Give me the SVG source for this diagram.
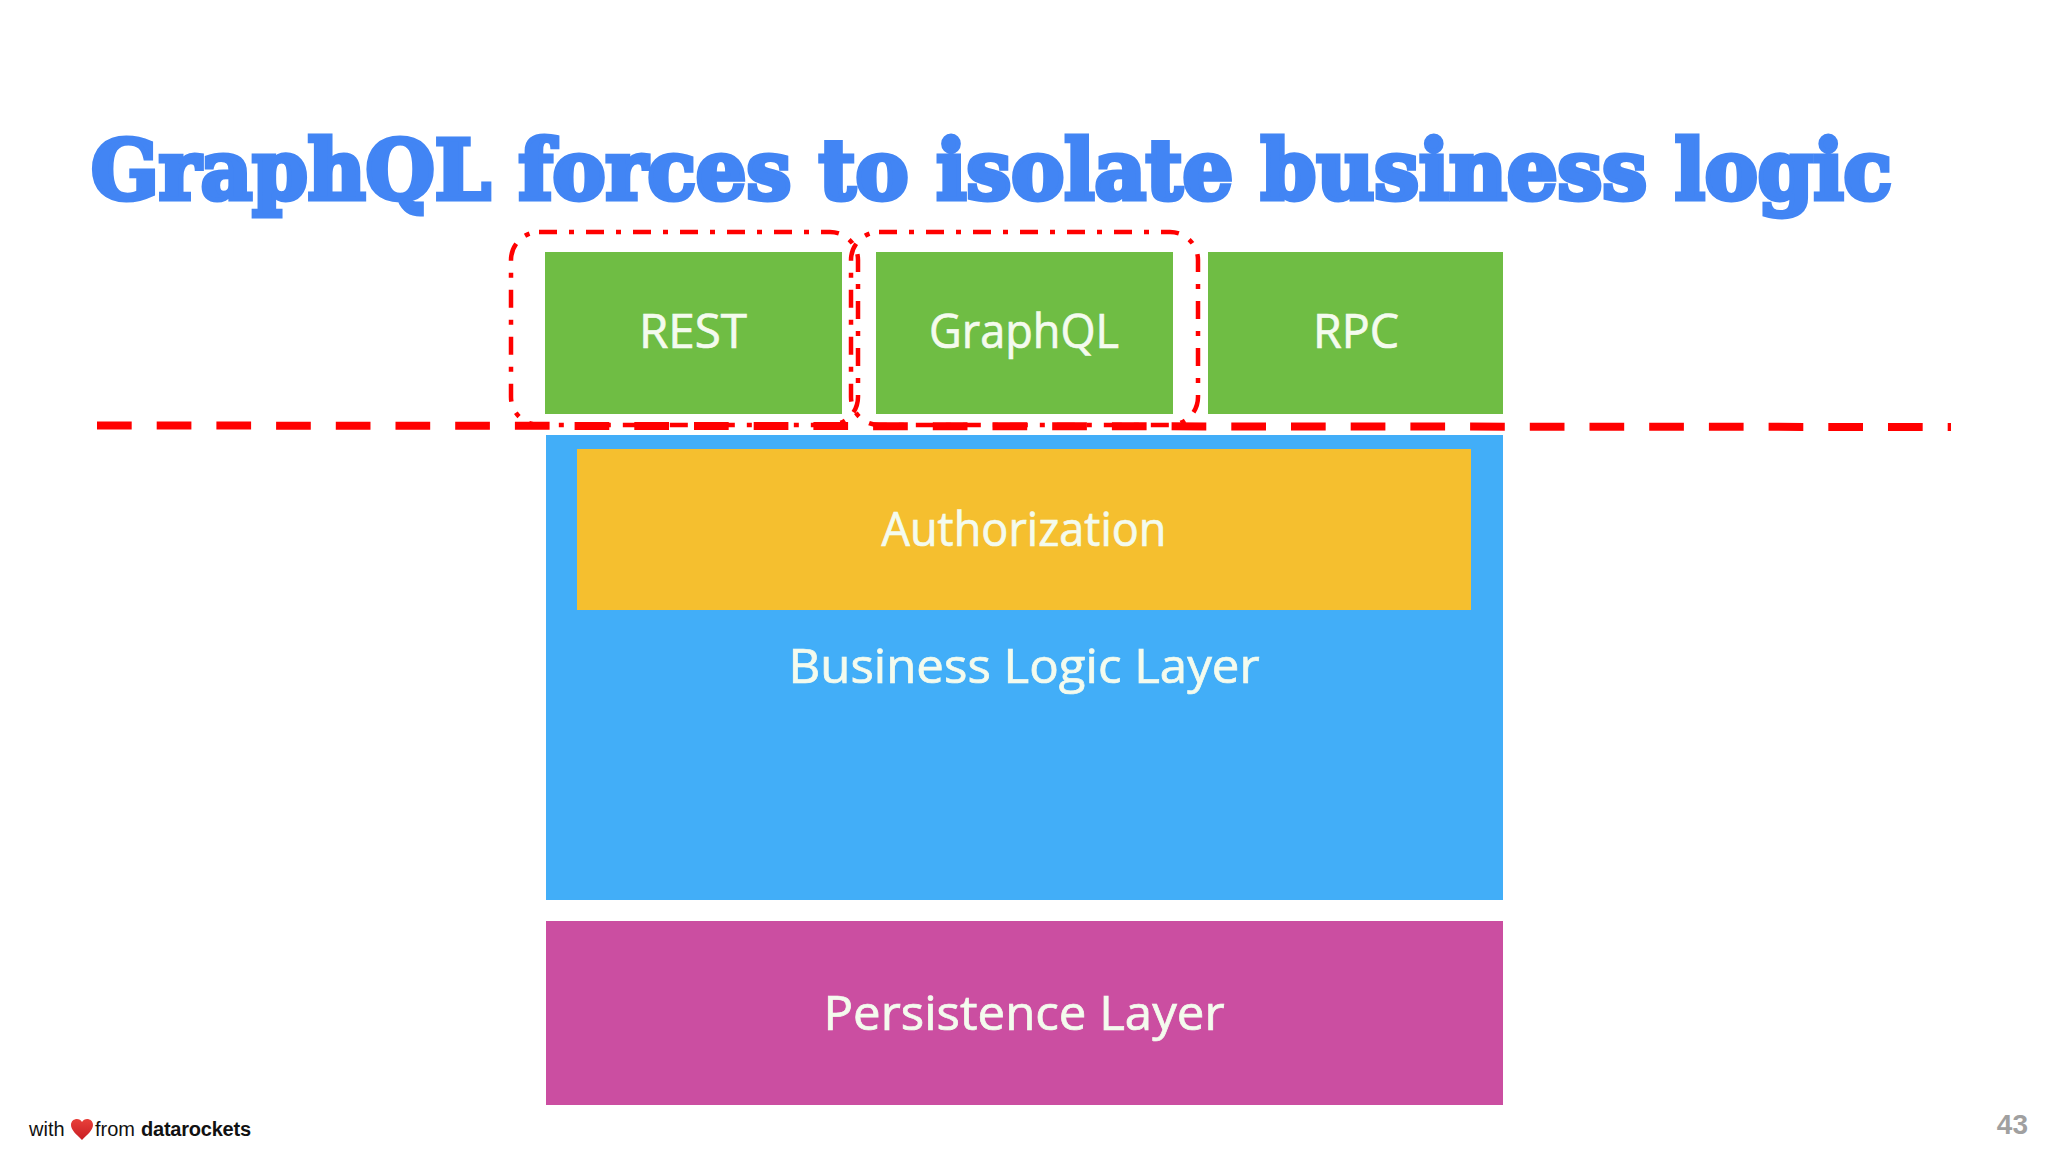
<svg xmlns="http://www.w3.org/2000/svg" width="2048" height="1152" viewBox="0 0 2048 1152">
<style>
.lbl{font-family:"Open Sans","DejaVu Sans",sans-serif;font-size:47px;fill:#f4fbee;stroke:#f4fbee;stroke-width:.7;text-anchor:middle}
.foot{font-family:"Liberation Sans",Arial,sans-serif;font-size:20px;fill:#111}
.sel{fill:none;stroke:#f00;stroke-width:4.5;stroke-dasharray:18 12 5 12}
</style>
<defs><linearGradient id="h" x1="0" y1="0" x2="0" y2="1"><stop offset="0" stop-color="#e8403a"/><stop offset="1" stop-color="#c81e24"/></linearGradient></defs>
<rect width="2048" height="1152" fill="#fff"/>
<text id="title" x="91" y="199" textLength="1801" lengthAdjust="spacingAndGlyphs" font-family="'DejaVu Serif',serif" font-weight="700" font-size="82" fill="#4285f4" stroke="#4285f4" stroke-width="5">GraphQL forces to isolate business logic</text>
<g id="rest"><rect x="545" y="252" width="297" height="162" fill="#6fbd44"/><text class="lbl" x="693" y="348" textLength="108" lengthAdjust="spacingAndGlyphs">REST</text></g>
<g id="graphql"><rect x="876" y="252" width="297" height="162" fill="#6fbd44"/><text class="lbl" x="1024" y="348" textLength="190" lengthAdjust="spacingAndGlyphs">GraphQL</text></g>
<g id="rpc"><rect x="1208" y="252" width="295" height="162" fill="#6fbd44"/><text class="lbl" x="1356" y="348" textLength="86" lengthAdjust="spacingAndGlyphs">RPC</text></g>
<g id="business-logic"><rect x="546" y="435" width="957" height="465" fill="#42aef8"/><text class="lbl" x="1024" y="683" textLength="471" lengthAdjust="spacingAndGlyphs">Business Logic Layer</text></g>
<g id="authorization"><rect x="577" y="449" width="894" height="161" fill="#f5bf2f"/><text class="lbl" x="1024" y="546" textLength="285" lengthAdjust="spacingAndGlyphs">Authorization</text></g>
<g id="persistence"><rect x="546" y="921" width="957" height="184" fill="#cb4ea1"/><text class="lbl" x="1024" y="1030" textLength="401" lengthAdjust="spacingAndGlyphs">Persistence Layer</text></g>
<g id="connectors">
<line x1="97" y1="425.5" x2="1951" y2="427" stroke="#f00" stroke-width="8" stroke-dasharray="34.7 25"/>
<rect class="sel" x="511" y="232" width="347" height="193" rx="28"/>
<rect class="sel" x="851" y="232" width="347" height="193" rx="28"/>
</g>
<g id="footer">
<text class="foot" x="29" y="1136">with</text>
<path d="M82 1140C76 1134 71 1130 71 1125C71 1121 74 1119 77 1119C79 1119 81 1120 82 1122C83 1120 85 1119 87 1119C90 1119 93 1121 93 1125C93 1130 88 1134 82 1140Z" fill="url(#h)"/>
<text class="foot" x="95" y="1136">from</text>
<text class="foot" x="141" y="1136" font-weight="700" textLength="110">datarockets</text>
</g>
<text id="page" x="2028" y="1134" text-anchor="end" font-family="'Liberation Sans',Arial,sans-serif" font-weight="700" font-size="28" fill="#a0a0a0">43</text>
</svg>
